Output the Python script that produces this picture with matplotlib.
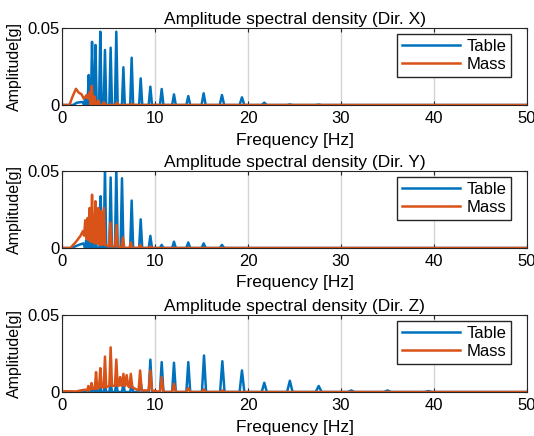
import numpy as np
import matplotlib.pyplot as plt

plt.rcParams['font.family'] = ['Liberation Sans', 'DejaVu Sans']
plt.rcParams['font.size'] = 12

BLUE = '#0072BD'
RED = '#D95319'
DARK = '#262626'

freq_ticks = [0, 10, 20, 30, 40, 50]
amp_ticks = [0, 0.05]
amp_labels = ['0', '0.05']
directions = ['X', 'Y', 'Z']

# ---- Dir. X ----
table_x_ff = [0, 1.2, 1.6, 2.2]
table_x_fa = [0, 0, 0.0015, 0.002]
table_x_pf = [2.5, 2.87, 3.23, 3.6, 4.12, 4.62, 5.23, 5.84, 6.6, 7.49, 8.46, 9.5,
              10.72, 12.04, 13.58, 15.23, 17.2, 19.35, 21.75, 24.5, 27.6]
table_x_pa = [0.004, 0.0195, 0.041, 0.039, 0.0476, 0.0357, 0.0372, 0.0476, 0.0245,
              0.0307, 0.0173, 0.0119, 0.0104, 0.0069, 0.0058, 0.0076, 0.0065,
              0.005, 0.0015, 0.0004, 0.0003]

mass_x_ff = [0, 0.8, 1.1, 1.5, 1.8, 2.1, 2.35, 2.65, 2.85, 3.0]
mass_x_fa = [0, 0, 0.005, 0.0105, 0.008, 0.007, 0.004, 0.0065, 0.004, 0.0085]
mass_x_pf = [3.2, 3.5, 3.9, 4.5, 5.9, 7.5]
mass_x_pa = [0.0125, 0.0055, 0.003, 0.0018, 0.0015, 0.0008]

# ---- Dir. Y ----
table_y_ff = [0, 1.0, 1.8, 2.3]
table_y_fa = [0, 0, 0.002, 0.003]
table_y_pf = [2.6, 2.95, 3.25, 3.6, 4.16, 4.62, 5.23, 5.84, 6.45, 7.49, 8.46, 9.5,
              10.72, 12.04, 13.58, 15.23, 17.2]
table_y_pa = [0.005, 0.006, 0.007, 0.009, 0.0336, 0.052, 0.0458, 0.052, 0.0453,
              0.0308, 0.0186, 0.0079, 0.002, 0.0041, 0.0036, 0.003, 0.002]

mass_y_ff = [0, 0.9, 1.5, 2.0, 2.25]
mass_y_fa = [0, 0, 0.004, 0.008, 0.011]
mass_y_pf = [2.5, 2.75, 2.97, 3.23, 3.6, 3.9, 4.2, 4.5, 5.2, 5.85, 6.55, 7.4, 8.4, 9.5]
mass_y_pa = [0.018, 0.0195, 0.026, 0.0346, 0.0304, 0.026, 0.024, 0.026, 0.0165,
             0.015, 0.0068, 0.0035, 0.002, 0.001]
mass_y_pb = [0.008, 0.006, 0.005, 0.004, 0.003, 0.003, 0.002, 0.002, 0.001, 0.001,
             0, 0, 0, 0]

# ---- Dir. Z ----
table_z_ff = [0, 2.0, 2.8]
table_z_fa = [0, 0, 0.001]
table_z_pf = [3.3, 3.7, 4.12, 4.62, 5.23, 5.84, 6.6, 7.49, 8.46, 9.5, 10.72, 12.04,
              13.58, 15.27, 17.24, 19.35, 21.75, 24.5, 27.6, 31.1, 35.0, 39.4]
table_z_pa = [0.002, 0.003, 0.003, 0.0045, 0.0065, 0.0055, 0.005, 0.005, 0.006,
              0.021, 0.0194, 0.019, 0.0194, 0.0237, 0.02, 0.014, 0.006, 0.0073,
              0.0039, 0.001, 0.001, 0.0006]

mass_z_ff = [0, 0.3, 1.5, 2.0, 2.5]
mass_z_fa = [0, 0.0005, 0.0003, 0.001, 0.0015]
mass_z_pf = [2.83, 3.18, 3.66, 4.12, 4.62, 5.23, 5.84, 6.25, 6.6, 6.95, 7.4, 8.4,
             9.5, 10.72, 12.04, 13.58, 15.25, 17.24]
mass_z_pa = [0.0039, 0.0058, 0.0129, 0.0155, 0.023, 0.029, 0.0211, 0.0097, 0.0118,
             0.011, 0.0118, 0.014, 0.014, 0.0097, 0.0054, 0.0026, 0.0017, 0.001]
mass_z_pb = [0.001, 0.002, 0.002, 0.003, 0.003, 0.004, 0.004, 0.004, 0.004, 0.004,
             0.003, 0.001, 0.001, 0, 0, 0, 0, 0]


def spectrum(ff, fa, pf, pa, pb=None):
    # floor points plus one narrow spike per resonance peak
    if pb is None:
        pb = [0] * len(pf)
    pts = list(zip(ff, fa))
    for f, a, b in zip(pf, pa, pb):
        w = 0.1 + 0.008 * f
        pts += [(f - w, b), (f, a), (f + w, b)]
    pts.append((50, 0))
    pts.sort()
    return np.array(pts).T


series = [
    (spectrum(table_x_ff, table_x_fa, table_x_pf, table_x_pa),
     spectrum(mass_x_ff, mass_x_fa, mass_x_pf, mass_x_pa)),
    (spectrum(table_y_ff, table_y_fa, table_y_pf, table_y_pa),
     spectrum(mass_y_ff, mass_y_fa, mass_y_pf, mass_y_pa, mass_y_pb)),
    (spectrum(table_z_ff, table_z_fa, table_z_pf, table_z_pa),
     spectrum(mass_z_ff, mass_z_fa, mass_z_pf, mass_z_pa, mass_z_pb)),
]

W, H = 534, 436
fig = plt.figure(figsize=(W / 100, H / 100), dpi=100)
tops = [28, 171, 315]

for top, d, (tab, mas) in zip(tops, directions, series):
    ax = fig.add_axes([62 / W, (H - top - 77) / H, 465 / W, 77 / H])
    ax.plot(tab[0], tab[1], color=BLUE, lw=1.8, label='Table')
    ax.plot(mas[0], mas[1], color=RED, lw=1.8, label='Mass')
    ax.set_xlim(0, 50)
    ax.set_ylim(0, 0.05)
    ax.set_xticks(freq_ticks)
    ax.set_yticks(amp_ticks)
    ax.set_yticklabels(amp_labels)
    ax.tick_params(direction='in', top=True, right=True, length=3,
                   color=DARK, labelcolor='black', width=0.8, labelsize=12)
    ax.tick_params(axis='x', pad=4)
    ax.tick_params(axis='y', pad=2)
    for s in ax.spines.values():
        s.set_color(DARK)
        s.set_linewidth(0.8)
    ax.grid(axis='x', color='#d4d4d4', lw=1)
    ax.set_title('Amplitude spectral density (Dir. %s)' % d, pad=3, fontsize=12.5)
    ax.set_xlabel('Frequency [Hz]', labelpad=5, fontsize=12.5)
    ax.set_ylabel('Amplitude[g]', fontsize=11.5)
    ax.yaxis.set_label_coords(-0.086, 0.5)
    ax.legend(loc='upper right', bbox_to_anchor=(0.9656, 0.922), borderaxespad=0,
              fancybox=False, framealpha=1, edgecolor=DARK, handlelength=3.5,
              handletextpad=0.35, borderpad=0.3, labelspacing=0.15,
              fontsize=12)

fig.savefig('out.png', dpi=100)
